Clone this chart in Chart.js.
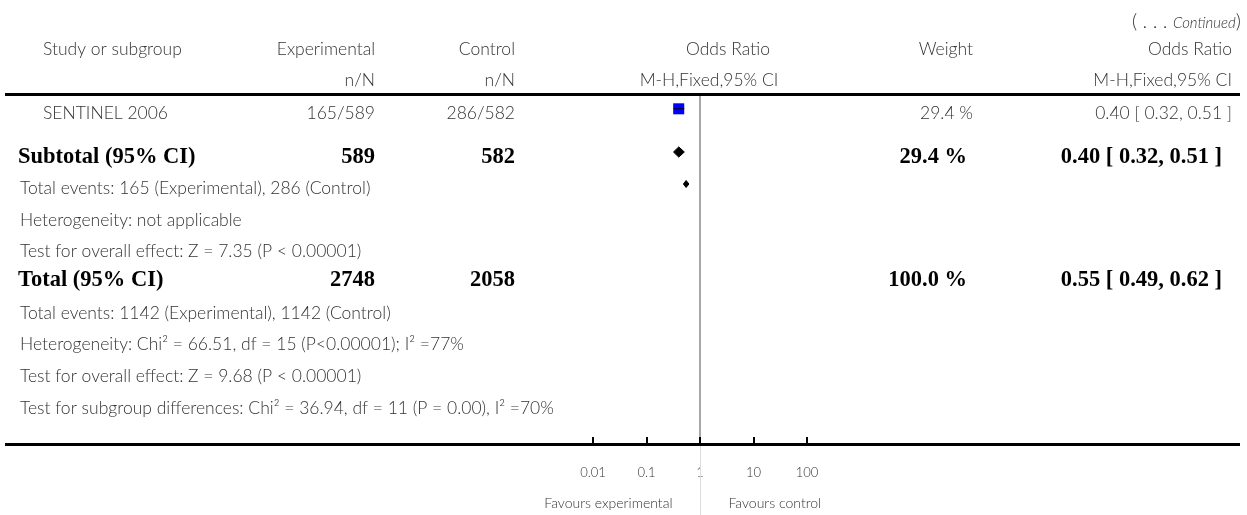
<!DOCTYPE html>
<html>
<head>
<meta charset="utf-8">
<script src="https://cdn.jsdelivr.net/npm/chart.js@4.4.1/dist/chart.umd.min.js"></script>
<style>
  html, body { margin: 0; padding: 0; background: #fff; }
</style>
</head>
<body>
<canvas id="forestChart" width="1247" height="515"></canvas>
<script>
// ===== DATA =====
const studyNames = ['SENTINEL 2006'];
const studyExp = ['165/589'];
const studyCtrl = ['286/582'];
const studyOR = [0.40];
const studyLo = [0.32];
const studyHi = [0.51];
const studyWeight = ['29.4 %'];
const studyText = ['0.40 [ 0.32, 0.51 ]'];

const pooledNames = ['Subtotal (95% CI)', 'Total (95% CI)'];
const pooledExp = ['589', '2748'];
const pooledCtrl = ['582', '2058'];
const pooledOR = [0.40, 0.55];
const pooledLo = [0.32, 0.49];
const pooledHi = [0.51, 0.62];
const pooledWeight = ['29.4 %', '100.0 %'];
const pooledText = ['0.40 [ 0.32, 0.51 ]', '0.55 [ 0.49, 0.62 ]'];

const subgroupNotes = [
    'Total events: 165 (Experimental), 286 (Control)',
    'Heterogeneity: not applicable',
    'Test for overall effect: Z = 7.35 (P < 0.00001)'
];
const totalNotes = [
    'Total events: 1142 (Experimental), 1142 (Control)',
    'Heterogeneity: Chi² = 66.51, df = 15 (P<0.00001); I² =77%',
    'Test for overall effect: Z = 9.68 (P < 0.00001)',
    'Test for subgroup differences: Chi² = 36.94, df = 11 (P = 0.00), I² =70%'
];

const xTicks = [0.01, 0.1, 1, 10, 100];
const xTickLabels = ['0.01', '0.1', '1', '10', '100'];

// ===== LAYOUT =====
// table rows in line units (one unit ~ 32px), measured from the rule under the header
const rowPos = [0.55, 1.9, 2.9, 3.875, 4.85, 5.75, 6.78, 7.75, 8.75, 9.75];
const studyRow = [0];
const pooledRow = [1, 2];     // the total diamond sits one line under the subtotal one, as printed
const pooledTextRow = [1, 5];
const markerShift = 0.15;
const diamondHalf = [0.16, 0.11];
const Y_MAX = 10.875;

const SANS = 'Lato, "Open Sans", sans-serif';
const SERIF = '"Liberation Serif", "DejaVu Serif", serif';
const TEXT = '#333333';

// ===== DATASETS =====
const datasets = [];

studyOR.forEach((or, i) => {
    const y = rowPos[studyRow[i]] - markerShift;
    datasets.push({
        data: [{ x: studyLo[i], y: y }, { x: studyHi[i], y: y }],
        showLine: true, borderColor: '#000', borderWidth: 1,
        pointRadius: 0, order: 0
    });
    datasets.push({
        data: [{ x: or, y: y }],
        pointStyle: 'rect', pointRadius: 7.8,
        backgroundColor: '#0000ff', borderWidth: 0, order: 1
    });
});

pooledOR.forEach((or, i) => {
    const y = rowPos[pooledRow[i]] - markerShift;
    const h = diamondHalf[i];
    datasets.push({
        data: [
            { x: pooledLo[i], y: y },
            { x: or, y: y - h },
            { x: pooledHi[i], y: y },
            { x: or, y: y + h },
            { x: pooledLo[i], y: y }
        ],
        showLine: true, fill: 'shape', tension: 0,
        borderColor: '#000', backgroundColor: '#000', borderWidth: 1,
        pointRadius: 0, order: 1
    });
});

// line of no effect
datasets.push({
    data: [{ x: 1, y: 0 }, { x: 1, y: Y_MAX }],
    showLine: true, borderColor: '#8c8c8c', borderWidth: 1.5,
    pointRadius: 0, order: 5
});

// ===== TABLE TEXT + RULES =====
const tablePlugin = {
    id: 'forestTable',
    afterDraw(chart) {
        const ctx = chart.ctx;
        const xs = chart.scales.x;
        const ys = chart.scales.y;
        const area = chart.chartArea;
        const rowY = r => ys.getPixelForValue(rowPos[r]);

        ctx.save();

        // rules
        ctx.fillStyle = '#000';
        ctx.fillRect(5, 93, 1235, 3);
        ctx.fillRect(5, area.bottom - 1, 1235, 3);

        // tick marks pointing up into the plot
        xTicks.forEach(v => {
            const px = Math.round(xs.getPixelForValue(v));
            ctx.fillRect(px - 1, area.bottom - 7, 2, 6);
        });

        // faint continuation of the null line
        ctx.strokeStyle = '#dcdcdc';
        ctx.lineWidth = 1;
        ctx.beginPath();
        const x1 = Math.round(xs.getPixelForValue(1)) + 0.5;
        ctx.moveTo(x1, area.bottom + 2);
        ctx.lineTo(x1, 515);
        ctx.stroke();

        ctx.textBaseline = 'middle';
        ctx.fillStyle = TEXT;

        function put(text, x, y, align, font) {
            ctx.font = font;
            ctx.textAlign = align;
            ctx.fillText(text, x, y);
        }
        const normal = '300 17.5px ' + SANS;
        const bold = 'bold 22.5px ' + SERIF;

        // continued marker
        ctx.font = 'italic 300 15px ' + SANS;
        const contW = ctx.measureText('Continued').width;
        put(')', 1241, 22, 'right', '300 20px ' + SANS);
        ctx.font = '300 20px ' + SANS;
        const parW = ctx.measureText(')').width;
        put('Continued', 1241 - parW, 23, 'right', 'italic 300 15px ' + SANS);
        put('( . . . ', 1241 - parW - contW, 22, 'right', '300 20px ' + SANS);

        // header
        put('Study or subgroup', 43, 49, 'left', normal);
        put('Experimental', 375, 49, 'right', normal);
        put('Control', 515, 49, 'right', normal);
        put('Odds Ratio', 728, 49, 'center', normal);
        put('Weight', 973, 49, 'right', normal);
        put('Odds Ratio', 1232, 49, 'right', normal);
        put('n/N', 375, 80, 'right', normal);
        put('n/N', 515, 80, 'right', normal);
        put('M-H,Fixed,95% CI', 709, 80, 'center', normal);
        put('M-H,Fixed,95% CI', 1232, 80, 'right', normal);

        // study rows
        studyNames.forEach((name, i) => {
            const y = rowY(studyRow[i]);
            put(name, 43, y, 'left', normal);
            put(studyExp[i], 375, y, 'right', normal);
            put(studyCtrl[i], 515, y, 'right', normal);
            put(studyWeight[i], 973, y, 'right', normal);
            put(studyText[i], 1232, y, 'right', normal);
        });

        // pooled rows
        ctx.fillStyle = '#000';
        pooledNames.forEach((name, i) => {
            const y = rowY(pooledTextRow[i]);
            put(name, 18, y, 'left', bold);
            put(pooledExp[i], 375, y, 'right', bold);
            put(pooledCtrl[i], 515, y, 'right', bold);
            put(pooledWeight[i], 967, y, 'right', bold);
            put(pooledText[i], 1222, y, 'right', bold);
        });

        // notes
        ctx.fillStyle = TEXT;
        subgroupNotes.forEach((t, i) => put(t, 20, rowY(2 + i), 'left', normal));
        totalNotes.forEach((t, i) => put(t, 20, rowY(6 + i), 'left', normal));

        // favours labels
        const footY = 503;
        put('Favours experimental', x1 - 28, footY, 'right', '300 14px ' + SANS);
        put('Favours control', x1 + 28, footY, 'left', '300 14px ' + SANS);

        ctx.restore();
    }
};

// ===== CHART =====
const forestCtx = document.getElementById('forestChart').getContext('2d');
new Chart(forestCtx, {
    type: 'scatter',
    data: { datasets: datasets },
    options: {
        responsive: false,
        animation: false,
        layout: { padding: { left: 593, right: 440, top: 96, bottom: 0 } },
        plugins: {
            legend: { display: false },
            tooltip: { enabled: false }
        },
        scales: {
            x: {
                type: 'logarithmic',
                min: 0.01,
                max: 100,
                afterBuildTicks: axis => { axis.ticks = xTicks.map(v => ({ value: v })); },
                afterFit: axis => { axis.height = 71; },
                border: { display: false },
                grid: { display: false, drawTicks: false },
                ticks: {
                    autoSkip: false,
                    maxRotation: 0,
                    padding: 21,
                    color: TEXT,
                    font: { family: SANS, size: 13, weight: '300' },
                    callback: (v, i) => xTickLabels[i]
                }
            },
            y: {
                type: 'linear',
                reverse: true,
                min: 0,
                max: Y_MAX,
                display: false
            }
        }
    },
    plugins: [tablePlugin]
});
</script>
</body>
</html>
